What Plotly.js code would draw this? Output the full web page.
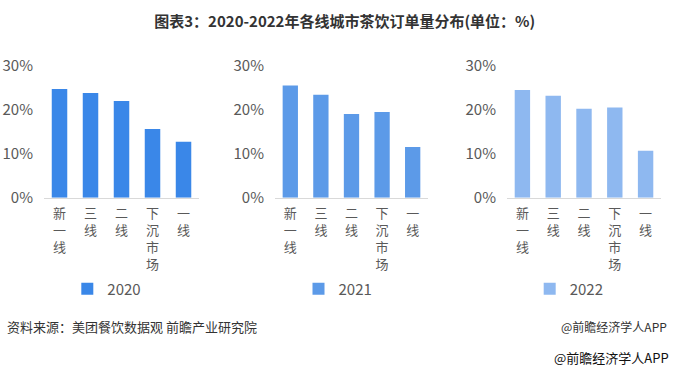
<!DOCTYPE html>
<html>
<head>
<meta charset="utf-8">
<script src="https://cdn.plot.ly/plotly-3.0.1.min.js"></script>
<style>html,body{margin:0;padding:0;background:#fff;}#chart{width:676px;height:372px;}</style>
</head>
<body>
<div id="chart"></div>
<script>
const categories = ["新<br>一<br>线", "三<br>线", "二<br>线", "下<br>沉<br>市<br>场", "一<br>线"];
const years = ["2020", "2021", "2022"];
const values2020 = [24.7, 23.8, 22.0, 15.6, 12.7];
const values2021 = [25.5, 23.4, 19.0, 19.5, 11.5];
const values2022 = [24.5, 23.2, 20.2, 20.5, 10.7];
const yTickVals = [0, 10, 20, 30];
const yTickText = ["0%", "10%", "20%", "30%"];
const colors = ["#3A87E8", "#5C9AE8", "#8EB8F0"];

const FONT = '"Noto Sans CJK SC", "Noto Sans", sans-serif';
const series = [values2020, values2021, values2022];
const suffix = ["", "2", "3"];
const traces = series.map((vals, i) => ({
  type: "bar",
  x: categories,
  y: vals,
  name: years[i],
  xaxis: "x" + suffix[i],
  yaxis: "y" + suffix[i],
  legend: "legend" + suffix[i],
  marker: {color: colors[i]},
  hoverinfo: "none"
}));

const xDomains = [[0.0651, 0.2944], [0.4068, 0.6331], [0.750, 0.9778]];
const legendX = [0.158, 0.500, 0.842];
const layout = {
  width: 676, height: 372,
  margin: {l: 0, r: 0, t: 0, b: 0},
  paper_bgcolor: "#ffffff", plot_bgcolor: "#ffffff",
  showlegend: true,
  bargap: 0.5,
  font: {family: FONT, color: "#595959"},
  title: {
    text: "<b>图表3：2020-2022年各线城市茶饮订单量分布(单位：%)</b>",
    x: 0.51, xanchor: "center", y: 0.941, yanchor: "middle",
    font: {family: FONT, size: 15, color: "#333333"}
  },
  annotations: [
    {text: "资料来源：美团餐饮数据观 前瞻产业研究院", xref: "paper", yref: "paper", x: 0.008, y: 0.121,
     xanchor: "left", yanchor: "middle", showarrow: false, font: {family: FONT, size: 13, color: "#333333"}},
    {text: "@前瞻经济学人APP", xref: "paper", yref: "paper", x: 0.989, y: 0.121,
     xanchor: "right", yanchor: "middle", showarrow: false, font: {family: FONT, size: 12, color: "#333333"}},
    {text: "@前瞻经济学人APP", xref: "paper", yref: "paper", x: 0.992, y: 0.040,
     xanchor: "right", yanchor: "middle", showarrow: false, font: {family: FONT, size: 13, color: "#111111"}}
  ]
};

for (let i = 0; i < 3; i++) {
  layout["xaxis" + suffix[i]] = {
    domain: xDomains[i], anchor: "y" + suffix[i],
    showline: true, linecolor: "#D9D9D9", linewidth: 1,
    showgrid: false, zeroline: false, ticks: "",
    tickangle: 0,
    ticklabelstandoff: 4,
    tickfont: {family: FONT, size: 13, color: "#595959"},
    fixedrange: true
  };
  layout["yaxis" + suffix[i]] = {
    domain: [0.4685, 0.8234], anchor: "x" + suffix[i],
    range: [0, 30],
    tickvals: yTickVals, ticktext: yTickText,
    showgrid: false, zeroline: false, showline: false, ticks: "",
    ticklabelstandoff: 10,
    tickfont: {family: FONT, size: 15, color: "#595959"},
    fixedrange: true
  };
  layout["legend" + suffix[i]] = {
    x: legendX[i], y: 0.223, xanchor: "center", yanchor: "middle",
    orientation: "h", bgcolor: "rgba(0,0,0,0)",
    font: {family: FONT, size: 15, color: "#595959"},
    itemwidth: 30
  };
}

Plotly.newPlot("chart", traces, layout, {displayModeBar: false, staticPlot: true});
</script>
</body>
</html>
